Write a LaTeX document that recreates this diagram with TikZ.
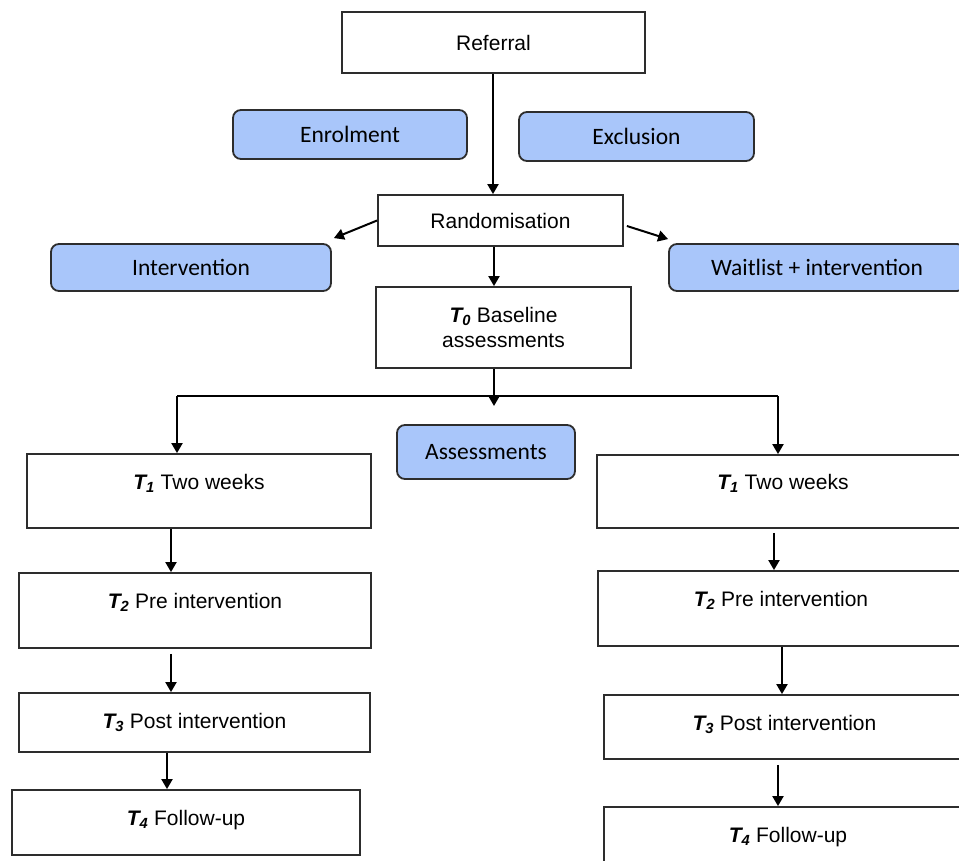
\documentclass[tikz,border=0pt]{standalone}
\usepackage{fontspec}
\setmainfont{Liberation Sans}
\newfontfamily\calfont{Carlito}
\usetikzlibrary{positioning, calc, arrows.meta}
\definecolor{phaseblue}{RGB}{169,198,250}
\definecolor{edgegray}{RGB}{45,45,45}
\newcommand{\Tp}[1]{{\bfseries\itshape T\textsubscript{#1}}}

\begin{document}
\begin{tikzpicture}[x=1pt, y=-1pt,
		stage/.style={draw=edgegray, line width=1.8pt, fill=white, inner sep=2pt, font=\fontsize{21}{25}\selectfont},
		phase/.style={draw=edgegray, line width=1.8pt, fill=phaseblue, rounded corners=8pt, font=\calfont\fontsize{23.5}{28}\selectfont},
		raised/.style={text depth=19pt},
		flow/.style={line width=2pt, -{Triangle[length=10pt, width=11pt]}}
		]
		\useasboundingbox (0,0) rectangle (959,861);
		\clip (0,0) rectangle (959,861);
		\node[stage, minimum width=303pt, minimum height=61pt] (ref) at (493.5,42.5) {Referral};
		\node[phase, minimum width=234pt, minimum height=49pt] (enrol) at (350,134.5) {Enrolment};
		\node[phase, minimum width=235pt, minimum height=49pt] (excl) at (636.5,136.5) {Exclusion};
		\node[stage, minimum width=245pt, minimum height=51pt] (rand) at (500.5,220.5) {Randomisation};
		\node[phase, minimum width=280pt, minimum height=47pt] (interv) at (191,267.5) {Intervention};
		\node[phase, minimum width=296pt, minimum height=47pt] (wait) at (817,267.5) {Waitlist + intervention};
		\node[stage, minimum width=255pt, minimum height=81pt, align=center] (base) at (503.5,327.5) {\Tp{0} Baseline\\assessments};
		\node[phase, minimum width=178pt, minimum height=54pt] (assess) at (486,452) {Assessments};

		\node[stage, raised, minimum width=344pt, minimum height=74pt] (T1L) at (199,491) {\Tp{1} Two weeks};
		\node[stage, raised, minimum width=352pt, minimum height=75pt] (T2L) at (195,610.5) {\Tp{2} Pre intervention};
		\node[stage, minimum width=351pt, minimum height=59pt] (T3L) at (194.5,722.5) {\Tp{3} Post intervention};
		\node[stage, text depth=10pt, minimum width=348pt, minimum height=65pt] (T4L) at (186,822.5) {\Tp{4} Follow-up};

		\node[stage, raised, minimum width=372pt, minimum height=73pt] (T1R) at (783,491.5) {\Tp{1} Two weeks};
		\node[stage, raised, minimum width=366pt, minimum height=75pt] (T2R) at (781,608.5) {\Tp{2} Pre intervention};
		\node[stage, text depth=8pt, minimum width=361pt, minimum height=64pt] (T3R) at (784.5,727) {\Tp{3} Post intervention};
		\node[stage, minimum width=368pt, minimum height=60pt] (T4R) at (788,837) {\Tp{4} Follow-up};

		\coordinate (split) at (494,406);
		\coordinate (barL) at (177,396);
		\coordinate (barR) at (778,396);

		\draw[flow] (ref.south -| 493,0) -- (rand.north -| 493,0);
		\draw[flow] (rand.west) -- ([shift={(2,-5)}]interv.north east);
		\draw[flow] ([shift={(3,5.5)}]rand.east) -- ([shift={(0,-4)}]wait.north west);
		\draw[flow] (rand.south -| 494,0) -- (base.north -| 494,0);
		\draw[flow] (base.south -| 494,0) -- (split);
		\draw[line width=2pt] (barL) -- (barR);
		\draw[flow] (barL) -- (barL |- T1L.north);
		\draw[flow] (barR) -- (barR |- T1R.north);

		\draw[flow] (T1L.south -| 171,0) -- (T2L.north -| 171,0);
		\draw[flow] (T2L.south -| 171,0) ++(0,5) -- (T3L.north -| 171,0);
		\draw[flow] (T3L.south -| 167,0) -- (T4L.north -| 167,0);

		\draw[flow] (T1R.south -| 774,0) ++(0,4) -- (T2R.north -| 774,0);
		\draw[flow] (T2R.south -| 782,0) -- (T3R.north -| 782,0);
		\draw[flow] (T3R.south -| 778,0) ++(0,5) -- (T4R.north -| 778,0);
	\end{tikzpicture}
\end{document}
